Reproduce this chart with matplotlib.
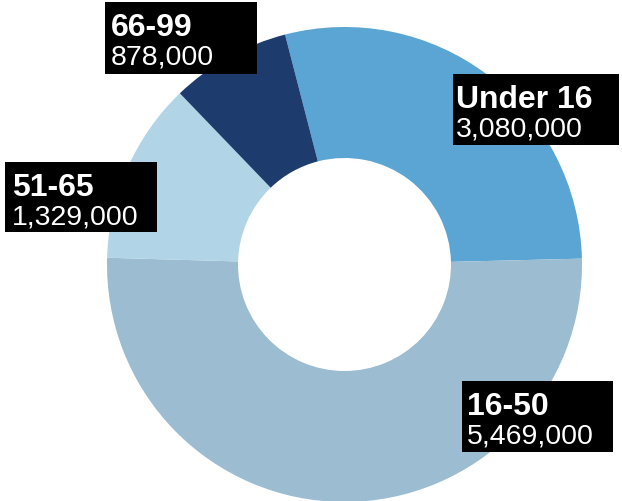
import matplotlib
matplotlib.use("Agg")
import matplotlib.pyplot as plt
from matplotlib.patches import Rectangle

# data
groups = ["Under 16", "16-50", "51-65", "66-99"]
counts = [3080000, 5469000, 1329000, 878000]
colors = ["#5ba5d4", "#9bbcd1", "#b1d4e7", "#1d3c6d"]

# label boxes (left, top, width, height, text inset) in pixels from top-left
boxes = {
    "Under 16": (453, 75, 166, 71, 3),
    "16-50": (462, 382, 151, 71, 5),
    "51-65": (5, 163, 152, 70, 7),
    "66-99": (105, 3, 152, 72, 6),
}

W, H = 622, 502
fig = plt.figure(figsize=(W / 100, H / 100), dpi=100)
ax = fig.add_axes([0, 0, 1, 1])

ax.pie(counts, colors=colors, startangle=104.5, counterclock=False,
       center=(344.5, H - 265.5), radius=237.5,
       wedgeprops=dict(width=131, edgecolor="none", linewidth=0))
ax.set_xlim(0, W)
ax.set_ylim(0, H)
ax.set_aspect("equal")
ax.axis("off")

for g, c in zip(groups, counts):
    bx, by, bw, bh, pad = boxes[g]
    ax.add_patch(Rectangle((bx, H - by - bh), bw, bh, facecolor="black",
                           edgecolor="none", zorder=5))
    ax.text(bx + pad, H - (by + 33), g, color="white", fontsize=23,
            fontweight="bold", family="Liberation Sans", va="baseline",
            zorder=6)
    ax.text(bx + pad, H - (by + 62), f"{c:,}", color="white", fontsize=20.5,
            family="Liberation Sans", va="baseline", zorder=6)

fig.savefig("out.png", dpi=100)
